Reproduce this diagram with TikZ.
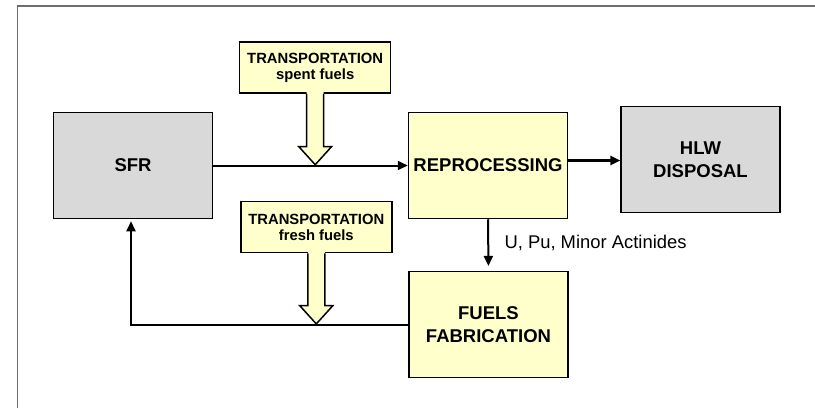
\documentclass[tikz,border=0pt]{standalone}
\usepackage{fontspec}
\setmainfont{Liberation Sans}
\usetikzlibrary{arrows.meta,calc}
\definecolor{boxyellow}{RGB}{255,255,204}
\definecolor{boxgrey}{RGB}{217,217,217}
\definecolor{framegrey}{RGB}{110,110,110}
\tikzset{
  bigbox/.style={draw=black, line width=1.5pt, rectangle, minimum width=159pt, minimum height=106pt, inner sep=2pt, align=center, font=\fontsize{18.5}{23}\selectfont\bfseries},
  greybox/.style={bigbox, fill=boxgrey},
  yellowbox/.style={bigbox, fill=boxyellow},
  transbox/.style={draw=black, line width=1.5pt, rectangle, fill=boxyellow, minimum width=151pt, minimum height=51pt, inner sep=2pt, align=center, font=\fontsize{14.8}{17}\selectfont\bfseries},
  flow/.style={line width=2pt, -{Triangle[length=10pt,width=9pt]}},
  blockfill/.style={fill=boxyellow},
  blockline/.style={draw=black, line width=1.5pt, line join=miter},
  labeltext/.style={inner sep=0pt, anchor=west, font=\fontsize{18.4}{22}\selectfont}
}
\begin{document}
\begin{tikzpicture}[x=1pt,y=-1pt]
\useasboundingbox (0,0) rectangle (815,408);
% frame
\draw[framegrey, line width=1.5pt] (17.3,408) -- (17.3,6) -- (815,6);

% boxes
\node[greybox] (sfr) at (133,165.5) {SFR};
\node[yellowbox] (repro) at (488,165.5) {REPROCESSING};
\node[greybox] (hlw) at (700.5,159.5) {HLW\\DISPOSAL};
\node[yellowbox] (fab) at (488.5,324.7) {FUELS\\FABRICATION};
\node[transbox] (tspent) at (315.2,67.5) {TRANSPORTATION\\[-1pt]spent fuels};
\node[transbox] (tfresh) at (316.3,227.2) {TRANSPORTATION\\[-1pt]fresh fuels};

% flows
\draw[flow] (sfr.east) -- (repro.west);
\draw[flow, line width=2.4pt] ([yshift=-1pt]hlw.west -| repro.east) -- ([yshift=-1pt]hlw.west);
\draw[flow, shorten >=5pt] (repro.south) -- (fab.north);
\draw[flow, shorten >=2pt] (fab.west) -| ([xshift=-2pt]sfr.south);
\node[labeltext] (lbl) at (504.3,242.7) {U, Pu, Minor Actinides};

% hollow block arrows
\coordinate (tipS) at (tspent.south |- sfr.east);
\coordinate (tipF) at (tfresh.south |- fab.west);
\foreach \b/\t in {tspent/tipS, tfresh/tipF}{
  \fill[blockfill] ($(\b.south)+(-8.5,-1.6)$) -- ($(\t)+(-8.5,-19)$) -- ($(\t)+(-16.5,-19)$) -- ($(\t)+(0,-0.8)$) -- ($(\t)+(16.5,-19)$) -- ($(\t)+(8.5,-19)$) -- ($(\b.south)+(8.5,-1.6)$) -- cycle;
  \draw[blockline] ($(\b.south)+(-8.5,0)$) -- ($(\t)+(-8.5,-19)$) -- ($(\t)+(-16.5,-19)$) -- ($(\t)+(0,-0.8)$) -- ($(\t)+(16.5,-19)$) -- ($(\t)+(8.5,-19)$) -- ($(\b.south)+(8.5,0)$);
}
\end{tikzpicture}
\end{document}
